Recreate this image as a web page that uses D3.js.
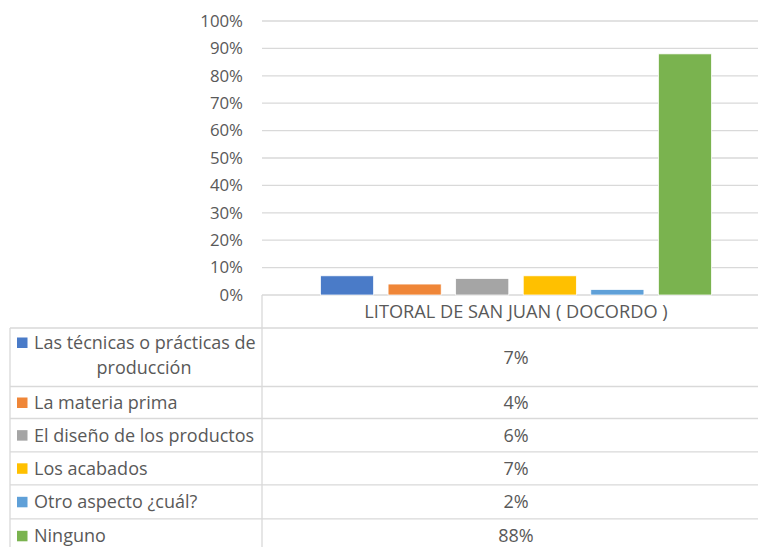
<!DOCTYPE html>
<html><head><meta charset="utf-8">
<script src="https://cdn.jsdelivr.net/npm/d3@7/dist/d3.min.js"></script>
<style>body{margin:0;background:#fff}svg{display:block}text{font-family:"Open Sans",Lato,sans-serif;fill:#595959}</style>
</head><body><svg id="c" width="758" height="547"></svg>
<script>
const category = "LITORAL DE SAN JUAN ( DOCORDO )";
const seriesNames = ["Las técnicas o prácticas de producción","La materia prima","El diseño de los productos","Los acabados","Otro aspecto ¿cuál?","Ninguno"];
const seriesLines = [["Las técnicas o prácticas de","producción"],["La materia prima"],["El diseño de los productos"],["Los acabados"],["Otro aspecto ¿cuál?"],["Ninguno"]];
const values = [0.07,0.04,0.06,0.07,0.02,0.88];
const valueLabels = ["7%","4%","6%","7%","2%","88%"];
const colors = ["#4A7BC8","#EF8638","#A5A5A5","#FFC000","#5FA0D8","#7AB34F"];
const yTicks = [0,0.1,0.2,0.3,0.4,0.5,0.6,0.7,0.8,0.9,1.0];

const svg = d3.select("#c");
const grid = "#D9D9D9";
const plotL = 262, plotR = 770, plotT = 21, plotB = 295;
const y = d3.scaleLinear().domain([0,1]).range([plotB, plotT]);
const xc = d3.scaleBand().domain([category]).range([plotL, plotR]);
const cx = xc(category) + xc.bandwidth()/2;
const xs = d3.scaleBand().domain(seriesNames).range([cx-195.5, cx+195.5]).paddingInner(0.214).paddingOuter(0);

svg.append("g").selectAll("line").data(yTicks).join("line")
  .attr("x1", plotL).attr("x2", plotR).attr("y1", d=>y(d)).attr("y2", d=>y(d))
  .attr("stroke", grid).attr("stroke-width", 1.3);

const yAxis = d3.axisLeft(y).tickValues(yTicks).tickFormat(d3.format(".0%")).tickSize(0).tickPadding(0);
const ya = svg.append("g").attr("transform", `translate(243,0)`).call(yAxis);
ya.select(".domain").remove();
ya.selectAll("text").attr("font-size", 16.8).attr("fill", "#595959").style("font-family","'Open Sans'");

svg.append("g").selectAll("rect").data(values).join("rect")
  .attr("x", (d,i)=>xs(seriesNames[i])).attr("width", xs.bandwidth())
  .attr("y", d=>y(d)).attr("height", d=>y(0)-y(d))
  .attr("fill", (d,i)=>colors[i]).attr("stroke","#fff").attr("stroke-width",0.75);

const tableTop = 328;
const rowH = [58.5,32,33.3,33,34,34];
const rowY = [tableTop];
rowH.forEach((h,i)=>rowY.push(rowY[i]+h));
const tl = 10, td = 262;
const tg = svg.append("g");
tg.append("line").attr("x1", td).attr("x2", td).attr("y1", plotB).attr("y2", 560).attr("stroke", grid).attr("stroke-width",1.3);
tg.append("line").attr("x1", tl).attr("x2", tl).attr("y1", tableTop).attr("y2", 560).attr("stroke", grid).attr("stroke-width",1.3);
tg.selectAll("line.h").data(rowY).join("line").attr("class","h")
  .attr("x1", tl).attr("x2", plotR).attr("y1", d=>d).attr("y2", d=>d)
  .attr("stroke", grid).attr("stroke-width",1.3);

svg.append("text").attr("x", cx).attr("y", 318).attr("text-anchor","middle").attr("font-size",18.2).text(category);

const fs = 18;
seriesNames.forEach((s,i)=>{
  const top = rowY[i], h = rowH[i];
  const lines = seriesLines[i];
  const g = svg.append("g");
  if (lines.length === 1) {
    const base = top + h/2 + 6.5;
    g.append("rect").attr("x",17).attr("y", base-11.5).attr("width",10.5).attr("height",10.5).attr("fill",colors[i]);
    g.append("text").attr("x",34).attr("y",base).attr("font-size",fs).text(lines[0]);
  } else {
    const b1 = top + 21, b2 = top + 46;
    g.append("rect").attr("x",17).attr("y", b1-11.5).attr("width",10.5).attr("height",10.5).attr("fill",colors[i]);
    g.append("text").attr("x",34).attr("y",b1).attr("font-size",fs).text(lines[0]);
    g.append("text").attr("x",144).attr("y",b2).attr("font-size",fs).attr("text-anchor","middle").text(lines[1]);
  }
  g.append("text").attr("x",cx).attr("y", top + h/2 + 6.5).attr("text-anchor","middle").attr("font-size",fs).text(valueLabels[i]);
});
</script></body></html>
